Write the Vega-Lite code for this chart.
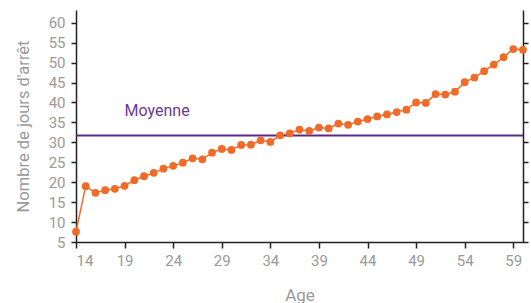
{
  "$schema": "https://vega.github.io/schema/vega-lite/v6.json",
  "width": 447,
  "height": 232,
  "autosize": "none",
  "padding": {"left": 76, "top": 10, "right": 8, "bottom": 61},
  "background": "white",
  "config": {"view": {"stroke": null}, "font": "Roboto"},
  "datasets": {
    "pts": [
      {"age": 14, "jours": 7.6}, {"age": 15, "jours": 19.0}, {"age": 16, "jours": 17.35},
      {"age": 17, "jours": 18.0}, {"age": 18, "jours": 18.35}, {"age": 19, "jours": 19.1},
      {"age": 20, "jours": 20.5}, {"age": 21, "jours": 21.5}, {"age": 22, "jours": 22.35},
      {"age": 23, "jours": 23.4}, {"age": 24, "jours": 24.1}, {"age": 25, "jours": 24.9},
      {"age": 26, "jours": 26.0}, {"age": 27, "jours": 25.75}, {"age": 28, "jours": 27.4},
      {"age": 29, "jours": 28.35}, {"age": 30, "jours": 28.1}, {"age": 31, "jours": 29.35},
      {"age": 32, "jours": 29.4}, {"age": 33, "jours": 30.5}, {"age": 34, "jours": 30.1},
      {"age": 35, "jours": 31.75}, {"age": 36, "jours": 32.25}, {"age": 37, "jours": 33.2},
      {"age": 38, "jours": 32.85}, {"age": 39, "jours": 33.7}, {"age": 40, "jours": 33.5},
      {"age": 41, "jours": 34.7}, {"age": 42, "jours": 34.4}, {"age": 43, "jours": 35.2},
      {"age": 44, "jours": 35.85}, {"age": 45, "jours": 36.5}, {"age": 46, "jours": 37.0},
      {"age": 47, "jours": 37.6}, {"age": 48, "jours": 38.2}, {"age": 49, "jours": 40.0},
      {"age": 50, "jours": 39.9}, {"age": 51, "jours": 42.1}, {"age": 52, "jours": 42.0},
      {"age": 53, "jours": 42.7}, {"age": 54, "jours": 45.1}, {"age": 55, "jours": 46.25},
      {"age": 56, "jours": 47.85}, {"age": 57, "jours": 49.5}, {"age": 58, "jours": 51.35},
      {"age": 59, "jours": 53.4}, {"age": 60, "jours": 53.2}
    ],
    "moy": [{"a0": 14, "a1": 60, "m": 31.7, "ta": 19, "tv": 37.9, "lab": "Moyenne"}]
  },
  "resolve": {"axis": {"y": "independent"}},
  "layer": [
    {
      "data": {"name": "moy"},
      "mark": {"type": "rule", "color": "#5b2a86", "strokeWidth": 2},
      "encoding": {
        "x": {"field": "a0", "type": "quantitative", "scale": {"domain": [14, 60], "nice": false, "zero": false},
          "axis": {"title": "Age", "values": [14, 19, 24, 29, 34, 39, 44, 49, 54, 59], "grid": false,
            "domainColor": "#222", "domainWidth": 1.5, "tickColor": "#222", "tickWidth": 1.5, "tickSize": 6,
            "labelColor": "#9a9a9a", "labelFontSize": 15, "labelPadding": 5, "labelFont": "Roboto",
            "titleColor": "#9a9a9a", "titleFontSize": 17, "titleFontWeight": "normal", "titlePadding": 19, "titleFont": "Roboto"}},
        "x2": {"field": "a1"},
        "y": {"field": "m", "type": "quantitative", "scale": {"domain": [5, 63.2], "nice": false, "zero": false},
          "axis": {"title": "Nombre de jours d'arrêt", "values": [5, 10, 15, 20, 25, 30, 35, 40, 45, 50, 55, 60], "grid": false,
            "domainColor": "#222", "domainWidth": 1.5, "tickColor": "#222", "tickWidth": 1.5, "tickSize": 5,
            "labelColor": "#9a9a9a", "labelFontSize": 15, "labelPadding": 6, "labelFont": "Roboto",
            "titleColor": "#9a9a9a", "titleFontSize": 16.5, "titleFontWeight": "normal", "titlePadding": 17, "titleFont": "Roboto"}}
      }
    },
    {
      "data": {"name": "moy"},
      "mark": {"type": "text", "color": "#6a3a98", "fontSize": 16, "align": "left", "baseline": "middle", "font": "Roboto"},
      "encoding": {
        "x": {"field": "ta", "type": "quantitative"},
        "y": {"field": "tv", "type": "quantitative", "axis": null},
        "text": {"field": "lab"}
      }
    },
    {
      "data": {"name": "pts"},
      "mark": {"type": "line", "color": "#f06a28", "strokeWidth": 1.5, "point": {"filled": true, "size": 60, "color": "#f06a28", "opacity": 1}},
      "encoding": {
        "x": {"field": "age", "type": "quantitative"},
        "y": {"field": "jours", "type": "quantitative",
          "axis": {"orient": "right", "title": null, "labels": false, "values": [5, 10, 15, 20, 25, 30, 35, 40, 45, 50, 55, 60], "grid": false,
            "domainColor": "#222", "domainWidth": 1.5, "tickColor": "#222", "tickWidth": 1.5, "tickSize": 5}}
      }
    }
  ]
}
